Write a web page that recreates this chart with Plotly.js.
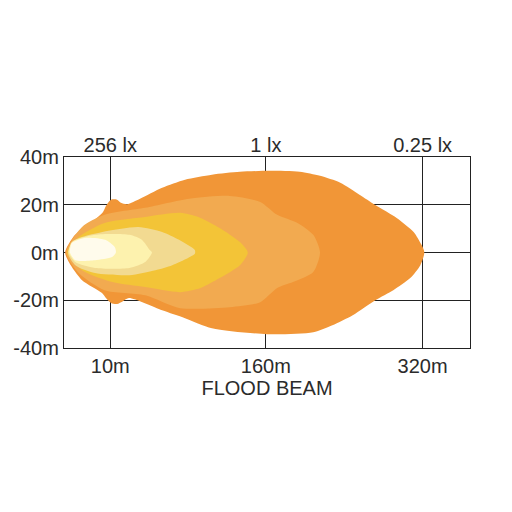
<!DOCTYPE html>
<html><head><meta charset="utf-8">
<script src="https://cdn.plot.ly/plotly-3.0.1.min.js"></script>
<style>html,body{margin:0;padding:0;background:#fff}#c{width:512px;height:512px}</style>
</head><body><div id="c"></div>
<script>
// Beam contours (x: distance units on chart, y: metres)
const outerX = [1,9.8,24.8,34.6,37.2,41.7,47,50.5,56,67.4,87,107.3,131.2,156,182.7,209,227,245,262,276,295,310,317,319.5,316,307,292,276,256,238,221,180,131.2,107.3,87,57.6,52.3,47,41.7,37.2,33.7,16,7];
const outerY = [0,7.4,12.8,17,19.5,22.1,22.1,20.8,20.2,22.5,27.1,30.5,32.6,33.8,34.2,33.8,32.1,29.2,24.2,19.9,14.5,8.6,3.2,0,-5.3,-10.7,-15.8,-20,-26.3,-30.5,-33.4,-34.2,-31.7,-27.5,-24.2,-19.1,-20.4,-21.6,-21.2,-19.1,-17,-11.6,-6.1];
const l2X = [2,16,36,72,111,147,174,189,207,221,227,221,203,189,174,147,103,72,36,13];
const l2Y = [0,10.7,15.8,18.7,22.5,23.7,21.2,15.8,12.4,7.4,0,-8.2,-12.4,-14.9,-20.8,-22.9,-23.3,-17.9,-15.8,-8.6];
const l3X = [2.7,13,36,72,103,121,138,156,163,156,138,121,103,72,43,16];
const l3Y = [0,6.5,12.4,14.9,16.6,14.5,10.3,4.4,0,-5.3,-10.7,-14.9,-16.6,-14.5,-12.4,-7.4];
const l4X = [3.5,10,34,66,87,102,116,116,96,81,58,27.5,10];
const l4Y = [0,5.3,8.6,10.7,8.6,5.3,1,-0.5,-5.3,-7.4,-9.5,-8.6,-5.3];
const l5X = [4.4,7,27.5,58,69,76,78,72,58,27.5,10];
const l5Y = [0,4.4,7.4,7.4,5.3,1,0,-4,-6.5,-6.5,-4];
const l6X = [5.3,7,18.6,36.4,45,46,42.6,27.5,10];
const l6Y = [0,4,6.1,5.3,2.3,0,-1.9,-3.2,-3.2];
const layerColors = ['#F19637','#F2AA50','#F3C437','#F2DA91','#FDF2AE','#FFFBEC'];

const bottomTickVals = [41,179,318];
const bottomTickText = ['10m','160m','320m'];
const topTickText = ['256 lx','1 lx','0.25 lx'];
const yTickVals = [-40,-20,0,20,40];
const yTickText = ['-40m','-20m','0m','20m','40m'];

const shapes = [[outerX,outerY],[l2X,l2Y],[l3X,l3Y],[l4X,l4Y],[l5X,l5Y],[l6X,l6Y]];
const data = shapes.map((s,i)=>({
  x: s[0].concat([s[0][0]]), y: s[1].concat([s[1][0]]),
  type:'scatter', mode:'lines', fill:'toself', fillcolor: layerColors[i],
  line:{width:0, shape:'spline', smoothing:0.7, color:layerColors[i]}, hoverinfo:'skip', showlegend:false
}));
data.push({x:[0],y:[0],xaxis:'x2',type:'scatter',mode:'markers',marker:{opacity:0},showlegend:false,hoverinfo:'skip'});

const font = {family:'Liberation Sans, Arial, sans-serif', size:20, color:'#2b2b2b'};
const layout = {
  width:512, height:512, margin:{l:64,r:42,t:157,b:164},
  paper_bgcolor:'#fff', plot_bgcolor:'#fff', showlegend:false, font:font,
  xaxis:{range:[0,360], tickvals:bottomTickVals, ticktext:bottomTickText, showgrid:true, gridcolor:'#222', gridwidth:1.2,
    zeroline:false, showline:true, linecolor:'#222', linewidth:1.2, mirror:true, ticks:'', fixedrange:true,
    title:{text:'FLOOD BEAM', font:font, standoff:0}, tickfont:font},
  xaxis2:{range:[0,360], overlaying:'x', side:'top', tickvals:bottomTickVals, ticktext:topTickText, showgrid:false,
    zeroline:false, showline:false, ticks:'', tickfont:font, fixedrange:true},
  yaxis:{range:[-40,40], tickvals:yTickVals, ticktext:yTickText, showgrid:true, gridcolor:'#222', gridwidth:1.2,
    zeroline:false, showline:true, linecolor:'#222', linewidth:1.2, mirror:true, ticks:'', tickfont:font, fixedrange:true}
};
Plotly.newPlot('c', data, layout, {staticPlot:true});
</script></body></html>
